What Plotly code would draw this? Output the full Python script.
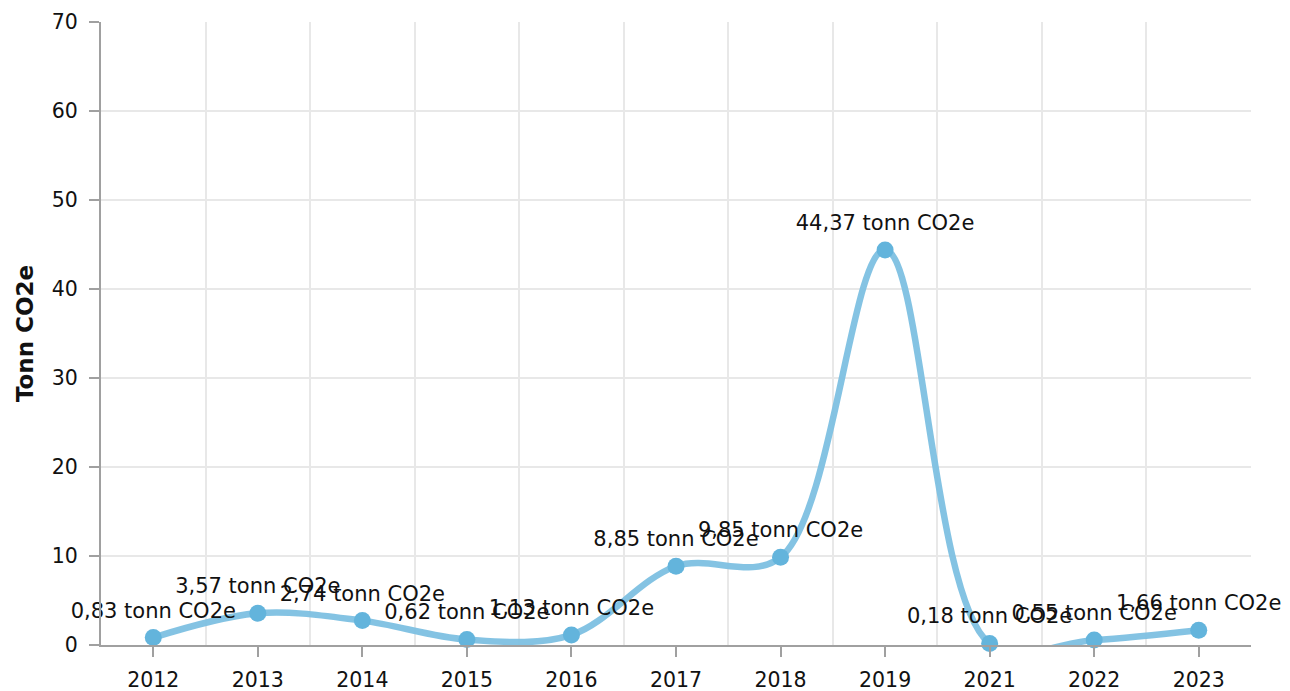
import plotly.graph_objects as go

years = ["2012", "2013", "2014", "2015", "2016", "2017", "2018", "2019", "2021", "2022", "2023"]
values = [0.83, 3.57, 2.74, 0.62, 1.13, 8.85, 9.85, 44.37, 0.18, 0.55, 1.66]
unit = "tonn CO2e"
y_ticks = [0, 10, 20, 30, 40, 50, 60, 70]

idx = list(range(len(years)))
labels = [f"{v:.2f}".replace(".", ",") + " " + unit for v in values]

FONT = "DejaVu Sans"
# the page body adds an ~8px offset; margins compensate for it
OFF = 8

fig = go.Figure()
fig.add_trace(go.Scatter(
    x=idx, y=values,
    mode="lines",
    line=dict(color="rgba(125,192,226,0.95)", width=6.5, shape="spline", smoothing=1.0),
    hoverinfo="skip",
    showlegend=False,
))
fig.add_trace(go.Scatter(
    x=idx, y=values,
    mode="markers",
    marker=dict(color="#63B4DC", size=17),
    showlegend=False,
    cliponaxis=False,
))
fig.add_trace(go.Scatter(
    x=idx, y=values,
    mode="markers+text",
    text=labels,
    textposition="top center",
    textfont=dict(family=FONT, size=21, color="#111111"),
    marker=dict(size=22, opacity=0),
    showlegend=False,
    cliponaxis=False,
    hoverinfo="skip",
))

fig.update_layout(
    width=1290, height=691,
    margin=dict(l=101 - OFF, r=39 + OFF, t=22 - OFF, b=46 + OFF, autoexpand=False),
    paper_bgcolor="white",
    plot_bgcolor="white",
    font=dict(family=FONT, size=20, color="#111111"),
)
fig.update_xaxes(
    range=[-0.5, len(years) - 0.5],
    tickmode="array", tickvals=idx, ticktext=years,
    showgrid=False,
    ticks="outside", ticklen=10, tickwidth=2, tickcolor="#A0A0A0",
    showline=True, linecolor="#A0A0A0", linewidth=2,
    minor=dict(tickmode="array", tickvals=[i - 0.5 for i in range(len(years) + 1)],
               showgrid=True, gridcolor="#E8E8E8", gridwidth=2, ticks=""),
    tickfont=dict(family=FONT, size=20.5, color="#111111"),
    ticklabelstandoff=5,
    zeroline=False,
    automargin=False,
)
fig.update_yaxes(
    range=[0, 70],
    tickmode="array", tickvals=y_ticks,
    showgrid=True, gridcolor="#E8E8E8", gridwidth=2,
    ticks="outside", ticklen=10, tickwidth=2, tickcolor="#A0A0A0",
    showline=True, linecolor="#A0A0A0", linewidth=2,
    zeroline=False,
    tickfont=dict(family=FONT, size=20.5, color="#111111"),
    ticklabelstandoff=7,
    automargin=False,
    title=dict(text="<b>Tonn CO2e</b>", font=dict(family=FONT, size=23, color="#111111"), standoff=12),
)

fig.write_html("out.html")
